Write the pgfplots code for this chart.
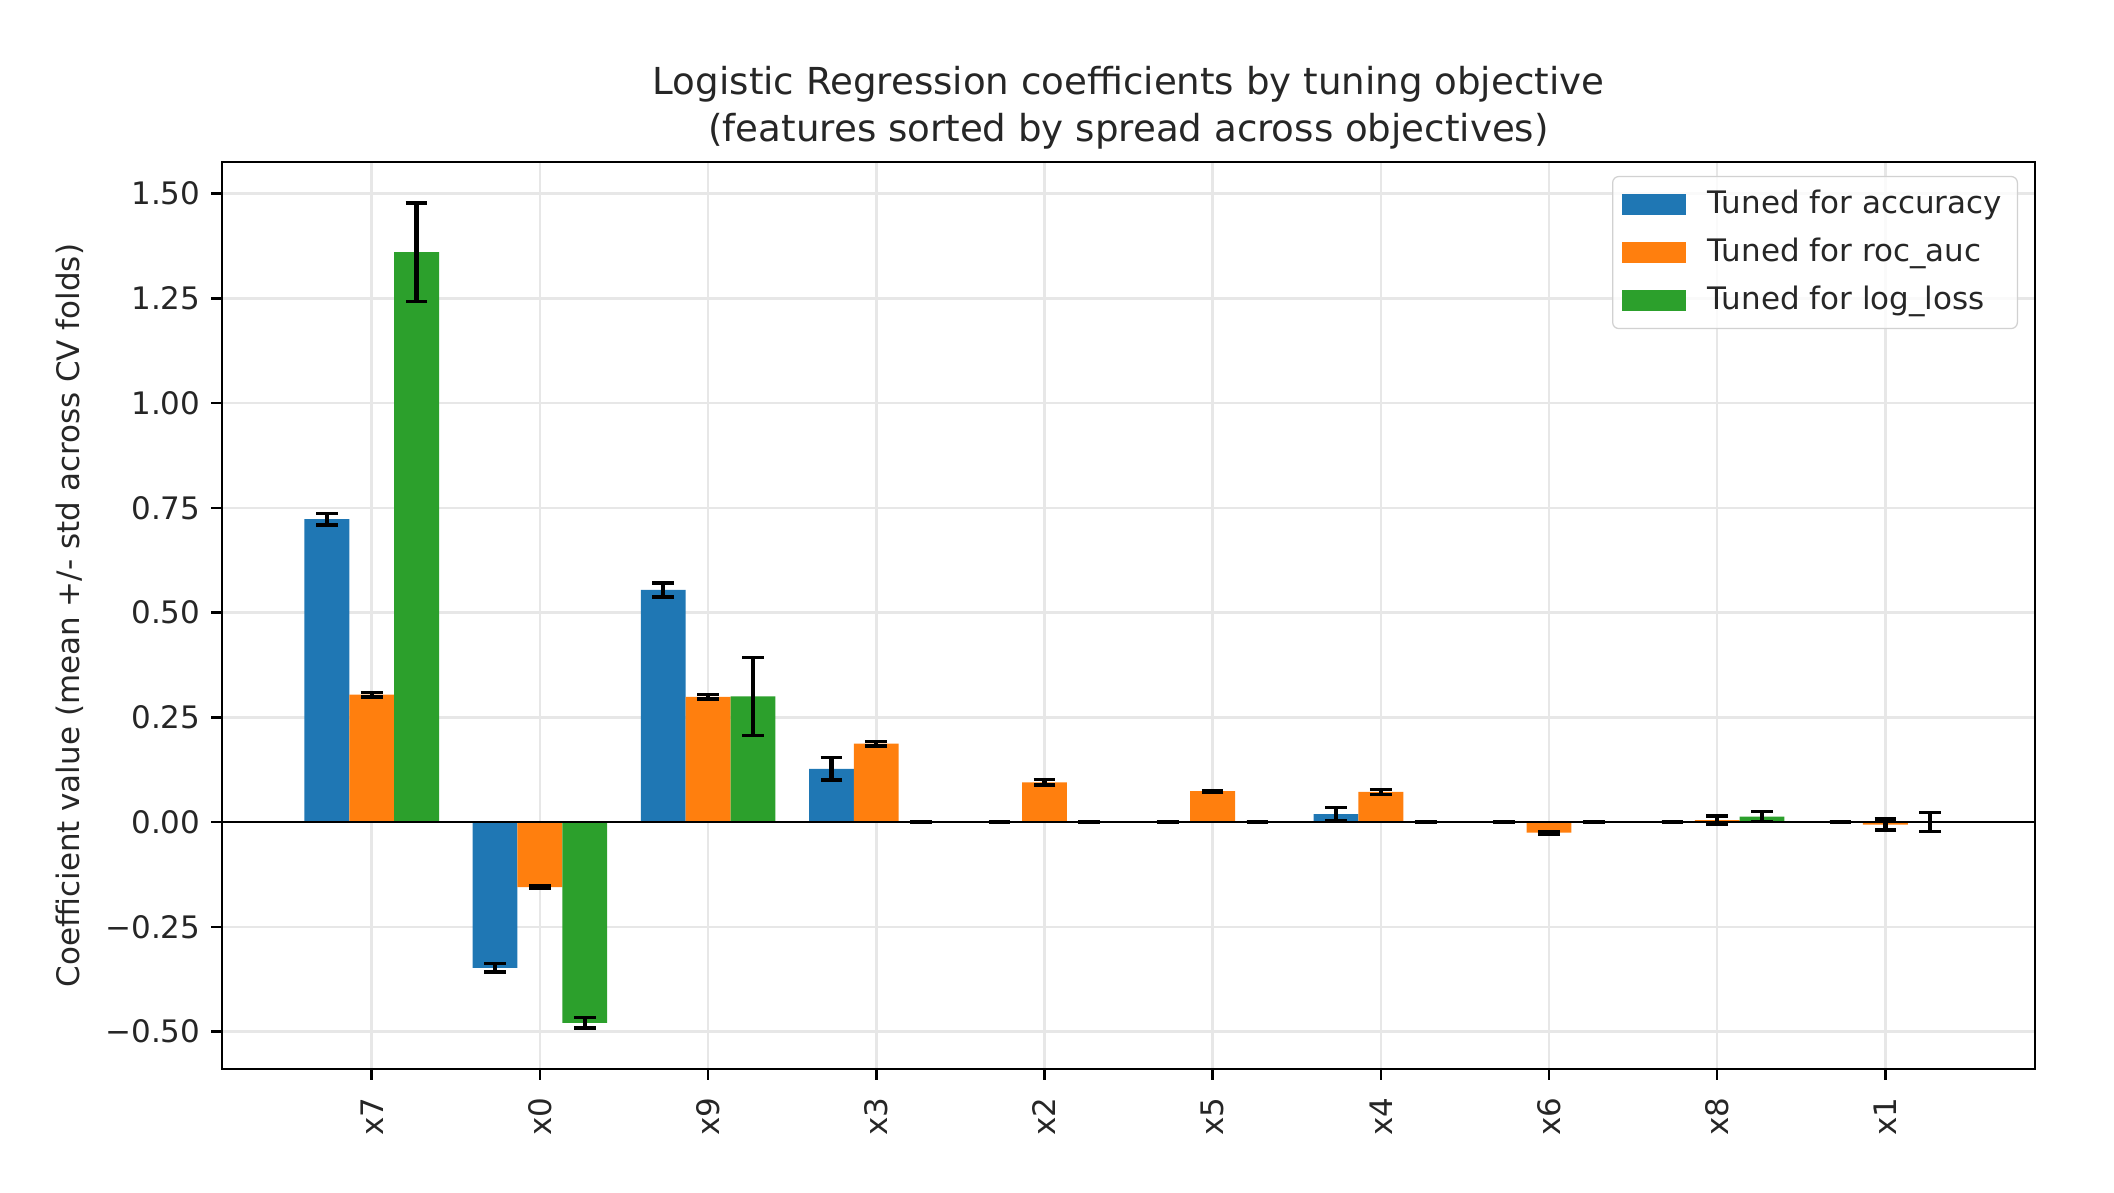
\documentclass[border=0pt]{standalone}
\usepackage{fontspec}
\setmainfont{DejaVu Sans}
\usepackage{pgfplots}
\usepackage{pgfplotstable}
\pgfplotsset{compat=1.18}
\definecolor{tabblue}{HTML}{1F77B4}
\definecolor{taborange}{HTML}{FF7F0E}
\definecolor{tabgreen}{HTML}{2CA02C}
\definecolor{gridc}{HTML}{E7E7E7}

% x: 0=x7 1=x0 2=x9 3=x3 4=x2 5=x5 6=x4 7=x6 8=x8 9=x1
\pgfplotstableread{
x y e
0 0.723 0.014
1 -0.348 0.010
2 0.554 0.017
3 0.127 0.027
4 0.000 0.000
5 0.000 0.000
6 0.019 0.016
7 0.000 0.000
8 0.000 0.000
9 0.000 0.000
}\acc
\pgfplotstableread{
x y e
0 0.304 0.005
1 -0.155 0.003
2 0.299 0.005
3 0.187 0.005
4 0.095 0.006
5 0.074 0.002
6 0.072 0.006
7 -0.025 0.003
8 0.005 0.010
9 -0.006 0.013
}\roc
\pgfplotstableread{
x y e
0 1.360 0.117
1 -0.479 0.012
2 0.300 0.093
3 0.000 0.000
4 0.000 0.000
5 0.000 0.000
6 0.000 0.000
7 0.000 0.000
8 0.013 0.012
9 0.000 0.023
}\logl

\begin{document}
\begin{tikzpicture}
\useasboundingbox (-71.7pt,-39.7pt) rectangle (610.9pt,345.2pt);
\begin{axis}[
  at={(0,0)}, anchor=south west,
  width=585.4pt, height=292.9pt, scale only axis,
  xmin=-0.89, xmax=9.89, ymin=-0.5894, ymax=1.5754,
  enlargelimits=false,
  xtick={0,1,2,3,4,5,6,7,8,9},
  xticklabels={x7,x0,x9,x3,x2,x5,x4,x6,x8,x1},
  ytick={-0.5,-0.25,0,0.25,0.5,0.75,1,1.25,1.5},
  yticklabels={−0.50,−0.25,0.00,0.25,0.50,0.75,1.00,1.25,1.50},
  tick label style={font=\fontsize{10}{12}\selectfont, text=black!85},
  x tick label style={rotate=90, anchor=east, inner xsep=5.5pt},
  tick align=outside, tick pos=left,
  major tick length=3.5pt,
  tick style={black, line width=0.8pt},
  axis line style={black, line width=0.8pt},
  grid=major, major grid style={gridc, line width=0.8pt},
  ybar, bar width=0.2667,
  title={Logistic Regression coefficients by tuning objective\\(features sorted by spread across objectives)},
  every axis title/.style={at={(0.5,1)}, anchor=south, yshift=4pt, inner sep=0pt,
     align=center, font=\fontsize{12}{15.2}\selectfont, text=black!85},
  ylabel={Coefficient value (mean +/- std across CV folds)},
  every axis y label/.style={at={(axis description cs:-0.0839,0.5)}, rotate=90, anchor=center,
     font=\fontsize{10}{12}\selectfont, text=black!85},
  legend image code/.code={\fill[#1, draw=none, fill opacity=1, sharp corners] (0pt,-3.5pt) rectangle (20.7pt,3.5pt);},
  legend cell align=left,
  legend style={at={(1,1)}, anchor=north east, xshift=-5.5pt, yshift=-4.5pt,
     draw=black!18, fill=white, fill opacity=0.8, text opacity=1, rounded corners=2pt,
     font=\fontsize{10}{12}\selectfont, text=black!85, inner xsep=3pt, inner ysep=2.5pt,
     row sep=2.4pt, /tikz/every odd column/.append style={column sep=5pt}},
]
\addplot[fill=tabblue, draw=none, bar shift=-0.2667,
  error bars/.cd, y dir=both, y explicit,
  error bar style={black, line width=1.4pt},
  error mark options={black, rotate=90, mark size=3.5pt, line width=1.1pt}]
  table[x=x, y=y, y error=e] {\acc};
\addlegendentry{Tuned for accuracy}
\addplot[fill=taborange, draw=none, bar shift=0,
  error bars/.cd, y dir=both, y explicit,
  error bar style={black, line width=1.4pt},
  error mark options={black, rotate=90, mark size=3.5pt, line width=1.1pt}]
  table[x=x, y=y, y error=e] {\roc};
\addlegendentry{Tuned for roc\_auc}
\addplot[fill=tabgreen, draw=none, bar shift=0.2667,
  error bars/.cd, y dir=both, y explicit,
  error bar style={black, line width=1.4pt},
  error mark options={black, rotate=90, mark size=3.5pt, line width=1.1pt}]
  table[x=x, y=y, y error=e] {\logl};
\addlegendentry{Tuned for log\_loss}
\draw[black, line width=0.8pt] (axis cs:-0.89,0) -- (axis cs:9.89,0);
\end{axis}
\end{tikzpicture}
\end{document}
